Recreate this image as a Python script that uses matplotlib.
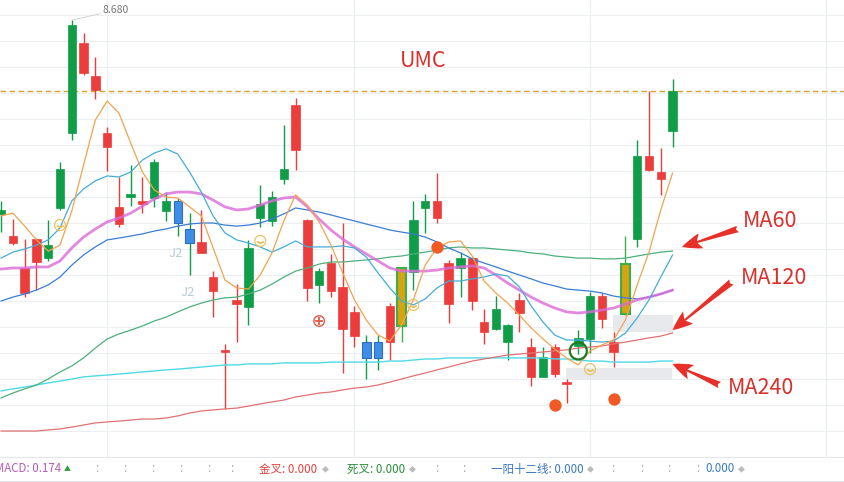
import numpy as np
import matplotlib.pyplot as plt

plt.rcParams['font.family'] = ['Noto Sans CJK SC', 'DejaVu Sans']

# daily candles (oldest first)
Open = [7.950, 7.823, 7.631, 7.750, 7.815, 8.108, 8.662, 8.477, 8.412, 8.192,
        7.896, 8.012, 7.973, 8.135, 7.985, 7.985, 7.877, 7.785, 7.638, 7.404,
        7.588, 7.804, 7.973, 8.000, 8.108, 8.181, 7.650, 7.715, 7.638, 7.492,
        7.465, 7.442, 7.442, 7.442, 7.504, 7.912, 7.985, 7.919, 7.588, 7.765,
        7.600, 7.481, 7.569, 7.508, 7.554, 7.308, 7.385, 7.319, 7.281, 7.458,
        7.619, 7.531, 7.404, 7.550, 8.158, 8.104, 8.069, 8.408]
High = [7.985, 7.915, 7.838, 7.842, 7.912, 8.135, 8.680, 8.631, 8.538, 8.269,
        8.077, 8.123, 8.077, 8.146, 8.019, 7.996, 7.938, 7.950, 7.715, 7.435,
        7.665, 7.835, 8.046, 8.023, 8.277, 8.381, 7.915, 7.727, 7.781, 7.900,
        7.581, 7.469, 7.469, 7.592, 7.727, 7.985, 8.012, 8.092, 7.758, 7.788,
        7.769, 7.569, 7.619, 7.510, 7.631, 7.458, 7.423, 7.435, 7.300, 7.488,
        7.635, 7.631, 7.481, 7.850, 8.219, 8.408, 8.188, 8.454]
Low = [7.865, 7.815, 7.615, 7.642, 7.754, 7.950, 8.219, 8.469, 8.377, 8.100,
       7.885, 7.965, 7.938, 7.962, 7.908, 7.850, 7.700, 7.785, 7.538, 7.185,
       7.442, 7.508, 7.885, 7.888, 8.050, 8.104, 7.600, 7.592, 7.615, 7.323,
       7.423, 7.300, 7.335, 7.373, 7.442, 7.642, 7.862, 7.900, 7.515, 7.615,
       7.565, 7.435, 7.488, 7.373, 7.481, 7.273, 7.306, 7.306, 7.208, 7.396,
       7.400, 7.496, 7.346, 7.548, 7.808, 8.100, 8.008, 8.192]
Close = [7.935, 7.850, 7.727, 7.838, 7.765, 7.958, 8.246, 8.592, 8.465, 8.246,
         7.962, 8.000, 7.985, 7.996, 7.946, 7.900, 7.823, 7.827, 7.692, 7.412,
         7.604, 7.577, 7.919, 7.908, 8.069, 8.354, 7.912, 7.662, 7.746, 7.654,
         7.558, 7.381, 7.381, 7.581, 7.727, 7.712, 7.958, 7.985, 7.746, 7.727,
         7.765, 7.519, 7.492, 7.442, 7.604, 7.423, 7.308, 7.423, 7.288, 7.427,
         7.454, 7.619, 7.442, 7.742, 7.838, 8.158, 8.096, 8.254]

blueDays = [15, 16, 31, 32]
goldDays = [34, 53]

MA5 = [7.927, 7.938, 7.888, 7.835, 7.792, 7.815, 7.946, 8.123, 8.296, 8.369,
       8.323, 8.208, 8.096, 8.027, 8.000, 7.996, 7.962, 7.927, 7.804, 7.681,
       7.650, 7.646, 7.700, 7.785, 7.908, 8.008, 7.969, 7.904, 7.815, 7.708,
       7.604, 7.527, 7.469, 7.446, 7.508, 7.604, 7.738, 7.804, 7.827, 7.831,
       7.773, 7.677, 7.631, 7.592, 7.546, 7.496, 7.454, 7.415, 7.381, 7.354,
       7.408, 7.431, 7.450, 7.527, 7.662, 7.788, 7.950, 8.092]
MA10 = [7.765, 7.788, 7.800, 7.815, 7.835, 7.881, 7.985, 8.031, 8.062, 8.081,
        8.077, 8.096, 8.142, 8.169, 8.185, 8.165, 8.096, 8.019, 7.927, 7.862,
        7.835, 7.823, 7.808, 7.788, 7.808, 7.831, 7.808, 7.808, 7.808, 7.812,
        7.804, 7.769, 7.708, 7.650, 7.600, 7.585, 7.608, 7.650, 7.677, 7.677,
        7.685, 7.692, 7.704, 7.696, 7.654, 7.581, 7.519, 7.469, 7.450, 7.450,
        7.446, 7.442, 7.446, 7.477, 7.535, 7.604, 7.692, 7.777]
MA20 = [7.723, 7.727, 7.727, 7.731, 7.731, 7.754, 7.804, 7.846, 7.877, 7.904,
        7.919, 7.938, 7.965, 7.992, 8.012, 8.019, 8.019, 8.012, 7.988, 7.962,
        7.950, 7.954, 7.969, 7.985, 7.996, 8.000, 7.962, 7.915, 7.873, 7.838,
        7.808, 7.781, 7.754, 7.727, 7.715, 7.715, 7.715, 7.719, 7.727, 7.731,
        7.735, 7.727, 7.700, 7.669, 7.642, 7.615, 7.592, 7.573, 7.558, 7.554,
        7.558, 7.565, 7.573, 7.588, 7.604, 7.615, 7.627, 7.642]
MA30 = [7.600, 7.615, 7.627, 7.642, 7.662, 7.692, 7.738, 7.777, 7.808, 7.835,
        7.842, 7.850, 7.858, 7.869, 7.877, 7.888, 7.896, 7.900, 7.900, 7.892,
        7.888, 7.892, 7.900, 7.915, 7.935, 7.958, 7.950, 7.942, 7.931, 7.919,
        7.908, 7.896, 7.885, 7.873, 7.865, 7.858, 7.846, 7.827, 7.804, 7.785,
        7.762, 7.746, 7.731, 7.715, 7.700, 7.685, 7.669, 7.658, 7.646, 7.642,
        7.638, 7.631, 7.619, 7.612, 7.608, 7.615, 7.627, 7.642]
MA60 = [7.227, 7.246, 7.262, 7.277, 7.300, 7.327, 7.350, 7.381, 7.419, 7.454,
        7.473, 7.488, 7.504, 7.523, 7.538, 7.558, 7.577, 7.592, 7.604, 7.612,
        7.615, 7.627, 7.642, 7.665, 7.692, 7.715, 7.727, 7.742, 7.750, 7.750,
        7.754, 7.758, 7.762, 7.769, 7.773, 7.781, 7.788, 7.796, 7.804, 7.808,
        7.804, 7.804, 7.800, 7.796, 7.792, 7.785, 7.781, 7.773, 7.769, 7.765,
        7.765, 7.762, 7.762, 7.765, 7.773, 7.781, 7.788, 7.792]
MA120 = [7.100, 7.100, 7.100, 7.100, 7.104, 7.108, 7.115, 7.123, 7.131, 7.135,
         7.138, 7.142, 7.146, 7.146, 7.150, 7.158, 7.169, 7.177, 7.181, 7.185,
         7.188, 7.196, 7.204, 7.212, 7.219, 7.231, 7.238, 7.246, 7.250, 7.258,
         7.265, 7.269, 7.277, 7.288, 7.300, 7.312, 7.323, 7.335, 7.346, 7.358,
         7.369, 7.377, 7.385, 7.392, 7.396, 7.400, 7.404, 7.408, 7.412, 7.419,
         7.423, 7.427, 7.435, 7.442, 7.450, 7.458, 7.465, 7.477]
MA240 = [7.254, 7.262, 7.269, 7.277, 7.285, 7.292, 7.300, 7.308, 7.312, 7.315,
         7.319, 7.323, 7.327, 7.331, 7.335, 7.338, 7.342, 7.346, 7.350, 7.354,
         7.354, 7.358, 7.358, 7.358, 7.362, 7.362, 7.362, 7.362, 7.365, 7.365,
         7.365, 7.365, 7.365, 7.369, 7.369, 7.373, 7.377, 7.377, 7.381, 7.381,
         7.381, 7.381, 7.381, 7.381, 7.381, 7.381, 7.381, 7.377, 7.377, 7.373,
         7.369, 7.369, 7.365, 7.365, 7.365, 7.365, 7.369, 7.369]

monthStarts = [9, 30, 50, 70]
dashLevel = 8.408

# signal icons on the chart
smileDays = [5, 22, 35, 50]
smilePrice = [7.892, 7.831, 7.585, 7.338]
dotDays = [37, 47, 52]
dotPrice = [7.808, 7.200, 7.223]
plusDays = [27]
plusPrice = [7.523]
ringDays = [49]
ringPrice = [7.408]
j2Days = [14.85, 15.87]
j2Price = [7.781, 7.631]

macdVal = 0.174

RED = '#d9302c'
UP = '#ec3d3d'
DOWN = '#0f9d48'

days = np.arange(len(Open))
Open = np.array(Open); Close = np.array(Close)
High = np.array(High); Low = np.array(Low)

fig = plt.figure(figsize=(8.45, 4.82), dpi=100)
ax = fig.add_axes([0, 25/482, 1, 457/482])
ax.set_xlim(-0.093, 71.64)
ax.set_ylim(7.0, 7.0 + 457/260)
for s in ['top', 'left', 'right']:
    ax.spines[s].set_visible(False)
ax.spines['bottom'].set_color('#e4e6ea')
ax.set_yticks(np.round(np.arange(7.1, 8.71, 0.1), 2))
ax.set_xticks(monthStarts)
ax.tick_params(length=0, labelleft=False, labelbottom=False)
ax.grid(color='#eceef1', lw=0.8)
ax.set_axisbelow(True)

# covered label boxes
ax.add_patch(plt.Rectangle((51.95, 7.481), 5.1, 0.065, color='#e7e9ec', lw=0, zorder=1))
ax.add_patch(plt.Rectangle((47.96, 7.296), 9.0, 0.046, color='#e7e9ec', lw=0, zorder=1))

ax.axhline(dashLevel, color='#e0a030', lw=1.0, ls=(0, (4, 2.5)), zorder=2)

# candles
faces, edges, widths, wicks = [], [], [], []
for i in days:
    up = Close[i] >= Open[i]
    if i in blueDays:
        faces.append('#3f8ee6'); edges.append('#2e6cc2'); widths.append(0.8)
        wicks.append(UP if up else DOWN)
    elif i in goldDays:
        faces.append('#d6a412'); edges.append('#3daf48'); widths.append(1.5)
        wicks.append('#3daf48')
    elif up:
        faces.append(UP); edges.append(UP); widths.append(0.5); wicks.append(UP)
    else:
        faces.append(DOWN); edges.append(DOWN); widths.append(0.5); wicks.append(DOWN)
ax.vlines(days, Low, High, colors=wicks, lw=1.0, zorder=3)
bodyLow = np.minimum(Open, Close)
bodyH = np.abs(Close - Open)
ax.bar(days, bodyH, bottom=bodyLow, width=0.72, color=faces, edgecolor=edges,
       linewidth=widths, zorder=4)

# moving averages
ax.plot(days, MA240, color='#4fd9e6', lw=1.0, zorder=5)
ax.plot(days, MA120, color='#e07272', lw=0.9, zorder=5)
ax.plot(days, MA60, color='#4cb07c', lw=0.9, zorder=5)
ax.plot(days, MA30, color='#3b7dd0', lw=0.9, zorder=5)
ax.plot(days, MA20, color='#dc6ad8', lw=2.0, alpha=0.8, zorder=5)
ax.plot(days, MA10, color='#45acd9', lw=0.9, zorder=5)
ax.plot(days, MA5, color='#f2a350', lw=0.9, zorder=5)

# icons
ax.scatter(smileDays, smilePrice, s=62, facecolors='none', edgecolors='#e8c262', lw=0.9, zorder=6)
ax.scatter(smileDays, np.array(smilePrice) - 0.004, s=18, marker=r'$\smile$', color='#e8c262', zorder=6)
ax.scatter(dotDays, dotPrice, s=62, color='#f15a24', zorder=6)
ax.scatter(plusDays, plusPrice, s=58, facecolors='none', edgecolors='#e45a4a', lw=1.0, zorder=6)
ax.scatter(plusDays, plusPrice, s=26, marker='+', color='#e45a4a', lw=1.3, zorder=6)
ax.scatter(ringDays, ringPrice, s=150, facecolors='none', edgecolors='#1f7a22', lw=1.6, zorder=7)
for d, p in zip(j2Days, j2Price):
    ax.text(d, p, 'J2', color='#b9ccd9', fontsize=9.5, ha='center', va='center', zorder=6)

# max high label
top = int(np.argmax(High))
ax.annotate(f'{High[top]:.3f}', xy=(top, High[top]), xytext=(top + 2.65, High[top] + 0.039),
            fontsize=7.5, color='#777777', va='center', ha='left',
            arrowprops=dict(arrowstyle='-', color='#cccccc', lw=0.6, shrinkA=0, shrinkB=0))

ax.text(35.8, 8.523, 'UMC', color=RED, fontsize=15.5, ha='center', va='center')
ax.text(62.98, 7.908, 'MA60', color=RED, fontsize=15.5, ha='left', va='center')
ax.text(62.8, 7.688, 'MA120', color=RED, fontsize=15.5, ha='left', va='center')
ax.text(61.7, 7.265, 'MA240', color=RED, fontsize=15.5, ha='left', va='center')

arrowStyle = 'fancy,head_length=0.9,head_width=0.7,tail_width=0.3'
for tip, tail in [((57.8, 7.808), (62.55, 7.877)),
                  ((57.0, 7.488), (62.0, 7.673)),
                  ((57.0, 7.358), (61.0, 7.277))]:
    ax.annotate('', xy=tip, xytext=tail,
                arrowprops=dict(arrowstyle=arrowStyle, fc='#e8302a', ec='none',
                                mutation_scale=16, shrinkA=0, shrinkB=0), zorder=8)

# indicator strip
fig.add_artist(plt.Line2D([0, 1], [1.5/482, 1.5/482], color='#e4e6ea', lw=0.8))
yTxt = 1 - 469/482
strip = [(-5, f'MACD: {macdVal:.3f}', '#b85cb8'),
         (64, '▲', '#2a9d3a'),
         (259, '金叉: 0.000', '#e0403c'),
         (322, '◆', '#bbbbbb'),
         (347, '死叉: 0.000', '#2a8a3a'),
         (409, '◆', '#bbbbbb'),
         (491, '一阳十二线: 0.000', '#3a78c0'),
         (587, '◆', '#bbbbbb'),
         (705, '0.000', '#3a78c0'),
         (738, '◆', '#bbbbbb')]
for x, t, c in strip:
    fs = 5 if t in ('▲', '◆') else 8.3
    fig.text(x/845, yTxt, t, color=c, fontsize=fs, va='center', ha='left')
for x in [97, 125, 153, 181, 209, 232, 437, 464, 613, 642, 669, 698]:
    fig.text(x/845, yTxt, ':', color='#aaaaaa', fontsize=8.3, va='center', ha='center')

fig.savefig('out.png', dpi=100)
